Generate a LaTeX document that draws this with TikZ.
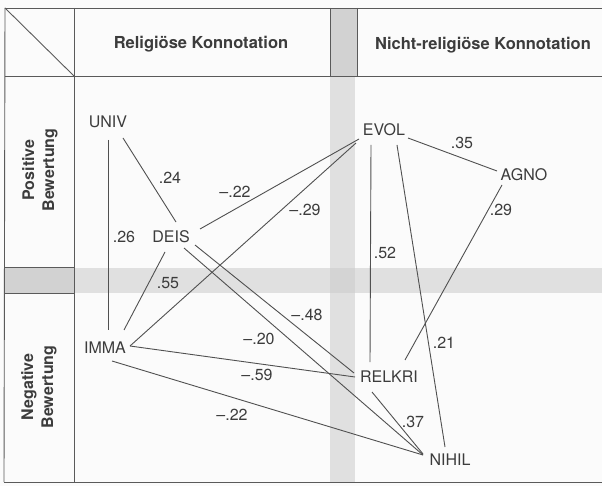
\documentclass[tikz,border=0pt]{standalone}
\usepackage{fontspec}
\setmainfont{TeX Gyre Heros}
\usetikzlibrary{calc}
\definecolor{txtc}{HTML}{3C3C3C}
\definecolor{linec}{HTML}{505050}
\definecolor{tblc}{HTML}{5A5A5A}
\definecolor{bodyband}{HTML}{E0E0E0}
\definecolor{hdrband}{HTML}{D2D2D2}
\definecolor{crossband}{HTML}{D4D4D4}
\definecolor{paper}{HTML}{FBFBFB}
\tikzset{
  tbl/.style={draw=tblc, line width=0.9pt},
  hdr/.style={font=\bfseries\fontsize{16.5}{20}\selectfont, text=txtc, inner sep=0pt},
  rowlbl/.style={font=\bfseries\fontsize{16}{20}\selectfont, text=txtc, inner sep=0pt, rotate=90, align=center},
  concept/.style={font=\fontsize{16}{19}\selectfont, text=txtc, inner sep=0pt},
  num/.style={font=\fontsize{16}{19}\selectfont, text=txtc, inner sep=0pt},
  link/.style={draw=linec, line width=0.9pt}
}
\begin{document}
\begin{tikzpicture}[x=1pt,y=-1pt]
\fill[paper] (0,0) rectangle (602,486);
\useasboundingbox (0,0) rectangle (602,486);
% grey bands
\fill[bodyband] (330,76) rectangle (355,482);
\fill[bodyband] (74,268) rectangle (602,293);
\fill[crossband] (330,268) rectangle (355,293);
\fill[hdrband] (330,8) rectangle (357,76);
\fill[hdrband] (5,267) rectangle (74,293);
% table frame
\draw[tbl] (5,8) -- (602,8);
\draw[tbl] (5,76) -- (602,76);
\draw[tbl] (4,482) -- (602,482);
\draw[tbl] (5,8) -- (4,482);
\draw[tbl] (74,8) -- (74,482);
\draw[tbl] (5,8) -- (74,76);
\draw[tbl] (330,8) -- (330,76);
\draw[tbl] (357,8) -- (357,76);
\draw[tbl] (5,267) -- (74,267);
\draw[tbl] (5,293) -- (74,293);
% headers
\node[hdr] (hrel) at (201,44) {Religiöse Konnotation};
\node[hdr] (hnrel) at (483,45) {Nicht-religiöse Konnotation};
\node[rowlbl] (rpos) at (40,170) {Positive\\Bewertung};
\node[rowlbl] (rneg) at (39,387) {Negative\\Bewertung};
% concepts
\node[concept] (UNIV) at (108,122) {UNIV};
\node[concept] (DEIS) at (171,237) {DEIS};
\node[concept] (EVOL) at (384,130) {EVOL};
\node[concept] (AGNO) at (524,175) {AGNO};
\node[concept] (IMMA) at (105,348) {IMMA};
\node[concept] (RELKRI) at (389,377) {RELKRI};
\node[concept] (NIHIL) at (450,460) {NIHIL};
% connectors
\draw[link] ($(UNIV)+(15,16)$) -- ($(DEIS)+(5,-15)$);
\draw[link] ($(UNIV)+(0,18)$) -- ($(IMMA)+(3,-18)$);
\draw[link] ($(DEIS)+(29,-8)$) -- ($(EVOL)+(-25,9)$);
\draw[link] ($(IMMA)+(25,-2)$) -- ($(EVOL)+(-28,13)$);
\draw[link] ($(DEIS)+(-6,15)$) -- ($(IMMA)+(19,-18)$);
\draw[link] ($(DEIS)+(24,8)$) -- ($(RELKRI)+(-35,-4)$);
\draw[link] ($(DEIS)+(13,11)$) -- ($(NIHIL)+(-27,-5)$);
\draw[link] ($(IMMA)+(25,-2)$) -- ($(RELKRI)+(-34,0)$);
\draw[link] ($(IMMA)+(7,13)$) -- ($(NIHIL)+(-27,-5)$);
\draw[link] ($(EVOL)+(24,8)$) -- ($(AGNO)+(-27,-4)$);
\draw[link] ($(AGNO)+(-22,10)$) -- ($(RELKRI)+(16,-17)$);
\draw[link] ($(EVOL)+(-13,15)$) -- ($(RELKRI)+(-19,-15)$);
\draw[link] ($(EVOL)+(13,15)$) -- ($(NIHIL)+(-5,-13)$);
\draw[link] ($(RELKRI)+(-17,15)$) -- ($(NIHIL)+(-27,-6)$);
% labels
\node[num] (l1) at (170,178) {.24};
\node[num] (l2) at (235,192) {--.22};
\node[num] (l3) at (305,210) {--.29};
\node[num] (l4) at (124,237) {.26};
\node[num] (l5) at (168,283) {.55};
\node[num] (l6) at (385,253) {.52};
\node[num] (l7) at (462,143) {.35};
\node[num] (l8) at (501,210) {.29};
\node[num] (l9) at (259,339) {--.20};
\node[num] (l10) at (307,315) {--.48};
\node[num] (l11) at (257,375) {--.59};
\node[num] (l12) at (444,343) {.21};
\node[num] (l13) at (413,422) {.37};
\node[num] (l14) at (232,415) {--.22};
\end{tikzpicture}
\end{document}
